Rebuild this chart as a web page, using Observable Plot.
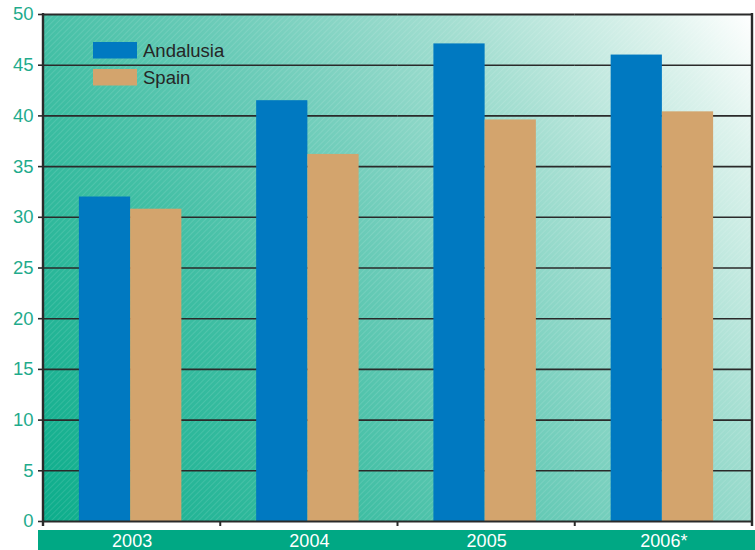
<!DOCTYPE html>
<html>
<head>
<meta charset="utf-8">
<script src="https://cdn.jsdelivr.net/npm/d3@7"></script>
<script src="https://cdn.jsdelivr.net/npm/@observablehq/plot@0.6"></script>
<style>
  html, body { margin: 0; padding: 0; background: #ffffff; }
  #chart svg { display: block; overflow: hidden; }
</style>
</head>
<body>
<div id="chart"></div>
<script>
// ---- data ----
const years = ["2003", "2004", "2005", "2006*"];
const series = ["Andalusia", "Spain"];
const andalusia = [32.0, 41.5, 47.1, 46.0];
const spain = [30.8, 36.2, 39.6, 40.4];
const yTicks = [0, 5, 10, 15, 20, 25, 30, 35, 40, 45, 50];
const gridValues = [5, 10, 15, 20, 25, 30, 35, 40, 45];
const seriesColors = ["#0079c1", "#d3a46d"];

const table = [];
years.forEach((yr, i) => {
  table.push({year: yr, series: series[0], value: andalusia[i]});
  table.push({year: yr, series: series[1], value: spain[i]});
});

const W = 755, H = 550;
const mL = 43, mR = 3, mT = 14, mB = 29;

const plot = Plot.plot({
  width: W,
  height: H,
  marginLeft: mL,
  marginRight: mR,
  marginTop: mT,
  marginBottom: mB,
  style: {fontFamily: "Liberation Sans, Arial, sans-serif", background: "transparent", overflow: "hidden"},
  fx: {domain: years, padding: 0, round: false, axis: null, label: null},
  x: {domain: series, paddingInner: 0, paddingOuter: 0.73, align: 0.48, round: false, axis: null, label: null},
  y: {domain: [0, 50], axis: null, label: null},
  color: {domain: series, range: seriesColors},
  marks: [
    Plot.ruleY(gridValues, {stroke: "#2a2a2a", strokeWidth: 1.6}),
    Plot.barY(table, {fx: "year", x: "series", y: "value", fill: "series", inset: 0}),
    Plot.ruleY([0, 50], {stroke: "#2a2a2a", strokeWidth: 2.2}),
    Plot.text(years, {fx: d => d, text: d => d, frameAnchor: "bottom", dy: 25, fill: "white", fontSize: 18, lineAnchor: "bottom"}),
    Plot.axisY({ticks: yTicks, tickSize: 5, tickPadding: 5, stroke: "#2a2a2a", fill: "#1fab8c", fontSize: 18.5, strokeWidth: 1.6, label: null})
  ]
});

document.getElementById("chart").appendChild(plot);

// ---- decorations: background gradient, hatch texture, x band, frame, legend ----
const svg = plot.tagName.toLowerCase() === "svg" ? plot : plot.querySelector("svg");
const NS = "http://www.w3.org/2000/svg";
const pw = W - mL - mR, ph = H - mT - mB;

const defs = document.createElementNS(NS, "defs");
defs.innerHTML = `
  <linearGradient id="bgGrad" gradientUnits="userSpaceOnUse" x1="${mL}" y1="${mT + ph}" x2="${mL + pw}" y2="${mT}">
    <stop offset="0" stop-color="#0cad8b"/>
    <stop offset="0.3" stop-color="#3fbea3"/>
    <stop offset="0.5" stop-color="#6dccb9"/>
    <stop offset="0.72" stop-color="#a6dfd2"/>
    <stop offset="0.9" stop-color="#dcf2ec"/>
    <stop offset="1" stop-color="#ffffff"/>
  </linearGradient>
  <pattern id="hatch" patternUnits="userSpaceOnUse" width="4" height="4" patternTransform="rotate(45)">
    <line x1="0" y1="0" x2="0" y2="4" stroke="#ffffff" stroke-opacity="0.18" stroke-width="1.2"/>
  </pattern>`;

const firstChild = Array.from(svg.children).find(c => c.tagName.toLowerCase() === "g");
svg.insertBefore(defs, firstChild);

function mk(tag, attrs) {
  const el = document.createElementNS(NS, tag);
  for (const k in attrs) el.setAttribute(k, attrs[k]);
  return el;
}
svg.insertBefore(mk("rect", {x: mL, y: mT, width: pw, height: ph, fill: "url(#bgGrad)"}), firstChild);
svg.insertBefore(mk("rect", {x: mL, y: mT, width: pw, height: ph, fill: "url(#hatch)"}), firstChild);
// green x-label band
svg.insertBefore(mk("rect", {x: 38, y: mT + ph + 9, width: W - 38, height: 30, fill: "#00a884"}), firstChild);

// frame left/right edges and x ticks at category boundaries
const over = mk("g", {});
over.appendChild(mk("line", {x1: mL, x2: mL, y1: mT - 1, y2: mT + ph + 5, stroke: "#2a2a2a", "stroke-width": 2.4}));
over.appendChild(mk("line", {x1: mL + pw, x2: mL + pw, y1: mT - 1, y2: mT + ph + 5, stroke: "#2a2a2a", "stroke-width": 2.4}));
const step = pw / years.length;
years.forEach((yr, i) => {
  if (i > 0) {
    const x0 = mL + i * step;
    over.appendChild(mk("line", {x1: x0, x2: x0, y1: mT + ph, y2: mT + ph + 5, stroke: "#2a2a2a", "stroke-width": 2}));
  }
});

// legend
const lg = mk("g", {});
lg.setAttribute("style", "font-family: 'Liberation Sans', Arial, sans-serif; font-size: 18.5px; text-anchor: start;");
series.forEach((s, i) => {
  const y0 = 42 + i * 27;
  lg.appendChild(mk("rect", {x: 93, y: y0, width: 44, height: 16.5, fill: seriesColors[i]}));
  const t = mk("text", {x: 143, y: y0 + 15, fill: "#262626", "text-anchor": "start"});
  t.setAttribute("style", "font-size: 18.5px; text-anchor: start;");
  t.textContent = s;
  lg.appendChild(t);
});
over.appendChild(lg);
svg.appendChild(over);
</script>
</body>
</html>
